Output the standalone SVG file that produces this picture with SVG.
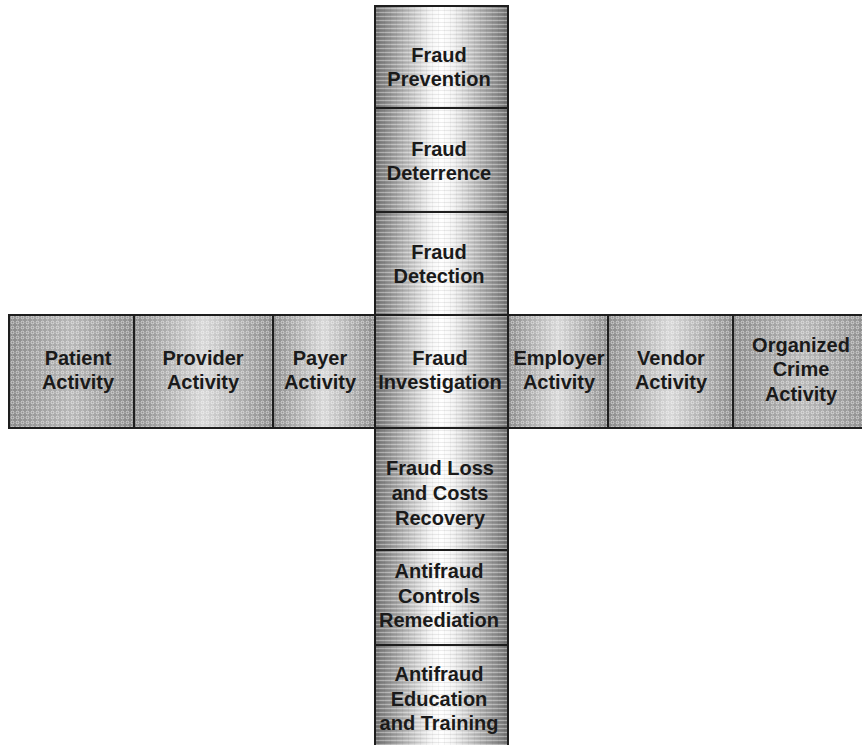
<svg xmlns="http://www.w3.org/2000/svg" width="862" height="745" viewBox="0 0 862 745">
<defs>
<linearGradient id="vg" x1="0" y1="0" x2="1" y2="0">
<stop offset="0" stop-color="#757575"/>
<stop offset="0.2" stop-color="#b0b0b0"/>
<stop offset="0.42" stop-color="#f4f4f4"/>
<stop offset="0.5" stop-color="#ffffff"/>
<stop offset="0.58" stop-color="#f4f4f4"/>
<stop offset="0.8" stop-color="#b0b0b0"/>
<stop offset="1" stop-color="#757575"/>
</linearGradient>
<linearGradient id="hg" x1="0" y1="0" x2="1" y2="0">
<stop offset="0" stop-color="#929292"/>
<stop offset="0.5" stop-color="#e4e4e4"/>
<stop offset="1" stop-color="#929292"/>
</linearGradient>
<linearGradient id="hgflat" x1="0" y1="0" x2="1" y2="0">
<stop offset="0" stop-color="#929292"/>
<stop offset="0.5" stop-color="#c2c2c2"/>
<stop offset="1" stop-color="#929292"/>
</linearGradient>
<pattern id="dots" width="5" height="5" patternUnits="userSpaceOnUse">
<rect width="5" height="5" fill="#000" opacity="0.06"/>
<circle cx="2.5" cy="2.5" r="1.4" fill="none" stroke="#ffffff" stroke-width="0.8" opacity="0.65"/>
</pattern>
<pattern id="lines" width="6" height="4" patternUnits="userSpaceOnUse">
<rect y="0" width="6" height="1" fill="#ffffff" opacity="0.35"/>
<rect y="2" width="6" height="1" fill="#000" opacity="0.07"/>
<rect x="0" y="0" width="1" height="4" fill="#000" opacity="0.04"/>
</pattern>
</defs>
<style>
.v{fill:url(#vg)}
.h{fill:url(#hg)}
.hf{fill:url(#hgflat)}
.tv{fill:url(#lines)}
.th{fill:url(#dots)}
.b{fill:none;stroke:#1e1e1e;stroke-width:2}
text{font-family:"Liberation Sans",Arial,sans-serif;font-weight:bold;font-size:20px;fill:#1a1a1a;text-anchor:middle}
</style>
<rect width="862" height="745" fill="#ffffff"/>

<g id="patient">
<rect class="hf" x="9" y="315" width="125" height="113"/>
<rect class="th" x="9" y="315" width="125" height="113"/>
<rect class="b" x="9" y="315" width="125" height="113"/>
<text x="78" y="365">Patient</text><text x="78" y="389">Activity</text>
</g>
<g id="provider">
<rect class="h" x="134" y="315" width="139" height="113"/>
<rect class="th" x="134" y="315" width="139" height="113"/>
<rect class="b" x="134" y="315" width="139" height="113"/>
<text x="203" y="365">Provider</text><text x="203" y="389">Activity</text>
</g>
<g id="payer">
<rect class="h" x="273" y="315" width="102" height="113"/>
<rect class="th" x="273" y="315" width="102" height="113"/>
<rect class="b" x="273" y="315" width="102" height="113"/>
<text x="320" y="365">Payer</text><text x="320" y="389">Activity</text>
</g>
<g id="employer">
<rect class="h" x="508" y="315" width="100" height="113"/>
<rect class="th" x="508" y="315" width="100" height="113"/>
<rect class="b" x="508" y="315" width="100" height="113"/>
<text x="559" y="365">Employer</text><text x="559" y="389">Activity</text>
</g>
<g id="vendor">
<rect class="h" x="608" y="315" width="125" height="113"/>
<rect class="th" x="608" y="315" width="125" height="113"/>
<rect class="b" x="608" y="315" width="125" height="113"/>
<text x="671" y="365">Vendor</text><text x="671" y="389">Activity</text>
</g>
<g id="organized">
<rect class="hf" x="733" y="315" width="140" height="113"/>
<rect class="th" x="733" y="315" width="140" height="113"/>
<rect class="b" x="733" y="315" width="140" height="113"/>
<text x="801" y="352">Organized</text><text x="801" y="376">Crime</text><text x="801" y="401">Activity</text>
</g>

<g id="prevention">
<rect class="v" x="375" y="6" width="133" height="102"/>
<rect class="tv" x="375" y="6" width="133" height="102"/>
<rect class="b" x="375" y="6" width="133" height="102"/>
<text x="439" y="62">Fraud</text><text x="439" y="86">Prevention</text>
</g>
<g id="deterrence">
<rect class="v" x="375" y="108" width="133" height="104"/>
<rect class="tv" x="375" y="108" width="133" height="104"/>
<rect class="b" x="375" y="108" width="133" height="104"/>
<text x="439" y="156">Fraud</text><text x="439" y="180">Deterrence</text>
</g>
<g id="detection">
<rect class="v" x="375" y="212" width="133" height="103"/>
<rect class="tv" x="375" y="212" width="133" height="103"/>
<rect class="b" x="375" y="212" width="133" height="103"/>
<text x="439" y="259">Fraud</text><text x="439" y="283">Detection</text>
</g>
<g id="investigation">
<rect class="v" x="375" y="315" width="133" height="113"/>
<rect class="tv" x="375" y="315" width="133" height="113"/>
<rect class="b" x="375" y="315" width="133" height="113"/>
<text x="440" y="365">Fraud</text><text x="440" y="389">Investigation</text>
</g>
<g id="recovery">
<rect class="v" x="375" y="428" width="133" height="122"/>
<rect class="tv" x="375" y="428" width="133" height="122"/>
<rect class="b" x="375" y="428" width="133" height="122"/>
<text x="440" y="475">Fraud Loss</text><text x="440" y="500">and Costs</text><text x="440" y="525">Recovery</text>
</g>
<g id="remediation">
<rect class="v" x="375" y="550" width="133" height="95"/>
<rect class="tv" x="375" y="550" width="133" height="95"/>
<rect class="b" x="375" y="550" width="133" height="95"/>
<text x="439" y="578">Antifraud</text><text x="439" y="603">Controls</text><text x="439" y="627">Remediation</text>
</g>
<g id="education">
<rect class="v" x="375" y="645" width="133" height="110"/>
<rect class="tv" x="375" y="645" width="133" height="110"/>
<rect class="b" x="375" y="645" width="133" height="110"/>
<text x="439" y="681">Antifraud</text><text x="439" y="706">Education</text><text x="439" y="730">and Training</text>
</g>
</svg>
